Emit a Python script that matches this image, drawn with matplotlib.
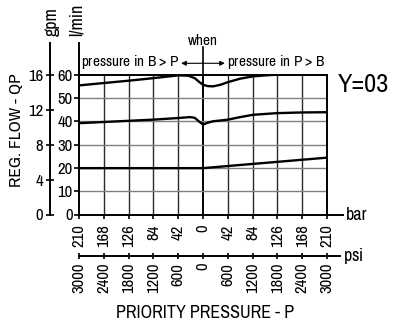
import matplotlib.pyplot as plt
from matplotlib.ticker import FixedLocator, FuncFormatter

# regulated flow (l/min) vs priority pressure (bar); negative bar = pressure in B > P side
top_bar = [-210, -169, -127, -85, -42, -25, -14, -6, 0, 8, 17, 30, 42, 63, 85, 105, 125, 168, 210]
top_flow = [55.4, 56.4, 57.4, 58.5, 59.7, 59.6, 58.5, 56.8, 55.7, 55.1, 55.0, 55.7, 56.8, 58.3, 59.3, 59.7, 60.0, 60.0, 60.0]

mid_bar = [-210, -168, -127, -85, -42, -22, -14, -8, 0, 8, 17, 42, 63, 85, 125, 168, 210]
mid_flow = [39.2, 39.7, 40.2, 40.7, 41.4, 41.8, 41.5, 40.2, 38.6, 39.4, 40.0, 40.7, 41.8, 42.8, 43.5, 43.8, 43.9]

low_bar = [-210, -126, -42, 0, 42, 84, 126, 168, 210]
low_flow = [19.9, 19.9, 19.9, 19.9, 20.8, 21.7, 22.6, 23.5, 24.4]

bar_ticks = [-210, -168, -126, -84, -42, 0, 42, 84, 126, 168, 210]
psi_ticks = [-3000, -2400, -1800, -1200, -600, 0, 600, 1200, 1800, 2400, 3000]
lmin_ticks = [0, 10, 20, 30, 40, 50, 60]
gpm_ticks = [0, 4, 8, 12, 16]

plt.rcParams['font.family'] = ['Archivo Narrow', 'DejaVu Sans']
plt.rcParams['mathtext.fontset'] = 'custom'
plt.rcParams['mathtext.rm'] = 'Archivo Narrow'
plt.rcParams['mathtext.bf'] = 'Archivo Narrow:bold'

fig = plt.figure(figsize=(3.94, 3.2), dpi=100)
ax = fig.add_axes([79 / 394, (320 - 214.5) / 320, 248 / 394, 139.8 / 320])

ax.set_xlim(-210, 210)
ax.set_ylim(0, 60)

# grid
for b in bar_ticks[1:-1]:
    ax.axvline(b, color='#2a2a2a' if b != 0 else 'k', lw=1.0 if b != 0 else 1.4, zorder=1)
for f in lmin_ticks[1:-1]:
    ax.axhline(f, color='#808080', lw=1.0, zorder=1)

# curves
ax.plot(top_bar, top_flow, color='k', lw=1.7, zorder=3)
ax.plot(mid_bar, mid_flow, color='k', lw=1.7, zorder=3)
ax.plot(low_bar, low_flow, color='k', lw=1.7, zorder=3)

for s in ax.spines.values():
    s.set_linewidth(1.4)

# bar axis
ax.xaxis.set_major_locator(FixedLocator(bar_ticks))
ax.xaxis.set_major_formatter(FuncFormatter(lambda v, p: f'{abs(v):.0f}'))
ax.tick_params(axis='x', direction='out', length=3, width=1.2, pad=4, labelsize=12, labelrotation=90)

# l/min axis
ax.yaxis.set_major_locator(FixedLocator(lmin_ticks))
ax.tick_params(axis='y', direction='out', length=3.5, width=1.2, pad=1, labelsize=12)

# gpm axis
gpm_loc = (50 - 79) / 248
gax = ax.secondary_yaxis(gpm_loc, functions=(lambda y: y * 16 / 60, lambda g: g * 60 / 16))
gax.yaxis.set_major_locator(FixedLocator(gpm_ticks))
gax.spines['left'].set_linewidth(1.4)
gax.tick_params(axis='y', direction='inout', length=6, width=1.2, pad=2, labelsize=12)

# psi axis
psi_loc = -(255.7 - 214.5) / 139.8
pax = ax.secondary_xaxis(psi_loc, functions=(lambda b: b * 3000 / 210, lambda p: p * 210 / 3000))
pax.xaxis.set_major_locator(FixedLocator(psi_ticks))
pax.xaxis.set_major_formatter(FuncFormatter(lambda v, p: f'{abs(v):.0f}'))
pax.spines['bottom'].set_linewidth(1.4)
pax.tick_params(axis='x', direction='inout', length=5, width=1.2, pad=2.5, labelsize=12, labelrotation=90)

# axis extensions
top_ext = 1 + (74.7 - 43) / 139.8
ax.plot([0, 0], [1, top_ext], transform=ax.transAxes, color='k', lw=1.4, clip_on=False)
ax.plot([gpm_loc, gpm_loc], [1, top_ext], transform=ax.transAxes, color='k', lw=1.4, clip_on=False)
ax.plot([1, 1 + 16 / 248], [0, 0], transform=ax.transAxes, color='k', lw=1.4, clip_on=False)
ax.plot([1, 1 + 13 / 248], [psi_loc, psi_loc], transform=ax.transAxes, color='k', lw=1.4, clip_on=False)
ax.plot([0, 0], [60, 72], color='k', lw=1.2, clip_on=False)

ax.text(1 + 19 / 248, 0, 'bar', transform=ax.transAxes, ha='left', va='center', fontsize=13)
ax.text(1 + 16 / 248, psi_loc, r'ps$\mathbf{i}$', transform=ax.transAxes, ha='left', va='center', fontsize=13)
ax.text(1 + 11 / 248, 56.0, 'Y=03', transform=ax.get_yaxis_transform(), ha='left', va='center', fontsize=19)

# arrows and notes
ax.annotate('', xy=(-37, 64.9), xytext=(0, 64.9), annotation_clip=False,
            arrowprops=dict(arrowstyle='-|>', color='k', lw=0.8, mutation_scale=7, shrinkA=0, shrinkB=0))
ax.annotate('', xy=(37, 64.9), xytext=(0, 64.9), annotation_clip=False,
            arrowprops=dict(arrowstyle='-|>', color='k', lw=0.8, mutation_scale=7, shrinkA=0, shrinkB=0))
ax.text(0, 74.3, 'when', ha='center', va='center', fontsize=11, clip_on=False)
ax.text(-40, 65.3, r'pressure $\mathbf{i}$n B > P', ha='right', va='center', fontsize=11, clip_on=False)
ax.text(40, 65.3, r'pressure $\mathbf{i}$n P > B', ha='left', va='center', fontsize=11, clip_on=False)

fig.text(52 / 394, 1 - 36 / 320, 'gpm', rotation=90, ha='center', va='bottom', fontsize=13)
fig.text(77 / 394, 1 - 36 / 320, 'l/min', rotation=90, ha='center', va='bottom', fontsize=13)
fig.text(17 / 394, 1 - 130 / 320, 'REG. FLOW - QP', rotation=90, ha='center', va='center', fontsize=12.5)
fig.text(205 / 394, 1 - 313 / 320, 'PRIORITY PRESSURE - P', ha='center', va='center', fontsize=13)

plt.savefig('out.png', dpi=100)
